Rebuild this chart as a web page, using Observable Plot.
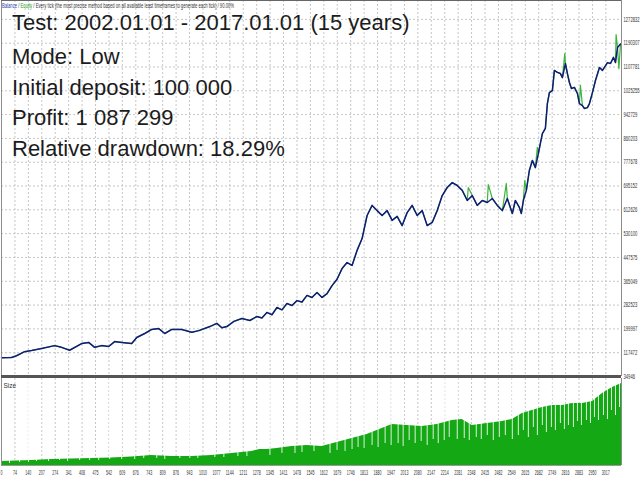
<!DOCTYPE html>
<html><head><meta charset="utf-8">
<script src="https://cdn.jsdelivr.net/npm/d3@7"></script>
<script src="https://cdn.jsdelivr.net/npm/@observablehq/plot@0.6"></script>
<style>
body{margin:0;background:#fff;}
#chart{position:relative;width:640px;height:480px;overflow:hidden;background:#fff;}
#chart svg{display:block;}
</style></head><body><div id="chart"></div>
<script>
// ---- data ----
const headerParts = ["Balance", " / ", "Equity", " / Every tick (the most precise method based on all available least timeframes to generate each tick) / 90.00%"];
const statLines = ["Test: 2002.01.01 - 2017.01.01 (15 years)", "Mode: Low", "Initial deposit: 100 000", "Profit: 1 087 299", "Relative drawdown: 18.29%"];
const yTickValues = [34946,117472,199997,282523,365049,447575,530100,612626,695152,777678,860203,942729,1025255,1107781,1190307,1272832];
const xTickLabels = ["0","74","140","207","274","341","408","475","542","609","676","743","809","876","943","1010","1077","1144","1211","1278","1345","1411","1478","1545","1612","1679","1746","1813","1880","1947","2013","2080","2147","2214","2281","2348","2415","2482","2549","2615","2682","2749","2816","2883","2950","3017"];
const balanceTrades = [0,50,75,115,150,200,265,300,340,400,435,465,500,535,565,600,650,675,715,750,785,815,850,900,950,985,1040,1075,1100,1125,1160,1200,1240,1275,1300,1325,1350,1375,1400,1425,1450,1475,1500,1525,1550,1575,1600,1625,1650,1675,1700,1725,1750,1775,1800,1825,1850,1875,1900,1925,1950,1975,2000,2025,2050,2075,2100,2125,2150,2175,2200,2225,2250,2275,2300,2325,2350,2375,2400,2425,2450,2475,2500,2525,2550,2565,2585,2595,2605,2620,2635,2650,2665,2680,2690,2700,2715,2725,2735,2750,2760,2775,2790,2800,2815,2825,2835,2845,2860,2875,2885,2900,2910,2925,2935,2950,2965,2985,3000,3025,3040,3055,3065,3075,3090];
const balanceValues = [100000,101000,107000,121000,125000,132000,142000,136000,126000,149000,153000,136000,142000,139000,156000,153000,149000,170000,184000,198000,201000,184000,198000,198000,188000,194000,208000,219000,204000,208000,226000,236000,229000,243000,238000,257000,249000,274000,266000,288000,281000,298000,293000,316000,309000,326000,309000,322000,350000,372000,409000,430000,420000,472000,513000,593000,628000,610000,593000,610000,576000,590000,558000,603000,628000,593000,610000,558000,569000,610000,662000,690000,707000,697000,680000,645000,662000,628000,645000,638000,652000,628000,610000,652000,600000,645000,621000,600000,645000,680000,749000,784000,759000,808000,843000,877000,895000,981000,1019000,1026000,1096000,1089000,1085000,1071000,1120000,1085000,1054000,1033000,1037000,1016000,981000,974000,964000,967000,981000,1019000,1061000,1106000,1096000,1123000,1120000,1141000,1123000,1175000,1187299];
const equitySpikeTrades = [2330,2430,2520,2612,2675,2812,2890,3068,3082];
const equitySpikeValues = [690000,700000,704000,714000,829000,1155000,1044000,1220000,1102000];
const sizeTrades = [0,75,150,250,350,450,550,650,750,850,950,1050,1150,1250,1290,1325,1375,1450,1525,1600,1675,1750,1825,1900,1950,2025,2100,2175,2250,2300,2350,2425,2500,2550,2600,2650,2700,2750,2800,2850,2900,2950,3000,3050,3095];
const sizeLots = [0.08,0.09,0.10,0.12,0.13,0.14,0.15,0.17,0.20,0.18,0.18,0.20,0.24,0.28,0.32,0.32,0.34,0.38,0.40,0.38,0.46,0.54,0.62,0.74,0.82,0.80,0.78,0.82,0.90,0.92,0.80,0.84,0.88,0.92,1.04,1.10,1.16,1.20,1.20,1.24,1.24,1.28,1.44,1.56,1.64];
const gapTrades = [40,90,135,175,235,290,330,390,440,485,540,600,665,710,775,815,890,940,980,1065,1110,1180,1225,1340,1400,1465,1500,1560,1640,1675,1715,1750,1780,1810,1850,1880,1915,1945,1980,2005,2035,2065,2095,2125,2155,2180,2210,2235,2275,2310,2335,2370,2395,2425,2455,2485,2515,2550,2580,2605,2630,2655,2675,2700,2720,2745,2765,2790,2810,2830,2855,2875,2895,2920,2940,2960,2980,3005,3025,3045,3065,3085];
const gapLots = [0.04,0.06,0.06,0.08,0.08,0.10,0.08,0.10,0.10,0.10,0.12,0.12,0.12,0.14,0.14,0.12,0.14,0.14,0.14,0.16,0.16,0.18,0.18,0.20,0.24,0.24,0.26,0.28,0.24,0.30,0.28,0.32,0.36,0.34,0.40,0.36,0.44,0.40,0.44,0.38,0.50,0.44,0.48,0.40,0.52,0.44,0.50,0.56,0.52,0.54,0.50,0.56,0.52,0.60,0.50,0.56,0.60,0.52,0.60,0.70,0.56,0.76,0.60,0.80,0.66,0.76,0.70,0.84,0.72,0.80,0.76,0.88,0.80,0.90,0.84,0.96,0.90,1.00,0.92,1.10,1.00,1.16];

// ---- layout ----
const font = "'Liberation Sans', Arial, sans-serif";
const xMax = 3095;
const yMin = 34946, yMax = 1338237;
const sizeMax = 1.74;
const xTickPos = xTickLabels.map((d, i) => i * 3017 / 45);
const grid = "#c6c6c6";

const balance = balanceTrades.map((t, i) => ({t, v: balanceValues[i]}));
const spikes = equitySpikeTrades.map((t, i) => ({t, v: equitySpikeValues[i]}));
const equity = balance.concat(spikes).sort((a, b) => a.t - b.t);
const sizeData = sizeTrades.map((t, i) => ({t, s: sizeLots[i]}));
const gaps = gapTrades.map((t, i) => ({t, s: gapLots[i]}));

const main = Plot.plot({
  width: 640, height: 377, marginLeft: 1, marginRight: 19, marginTop: 0, marginBottom: 1,
  x: {domain: [0, xMax], axis: null},
  y: {domain: [yMin, yMax], axis: null},
  style: {background: "#fff", fontFamily: font, overflow: "visible"},
  marks: [
    Plot.ruleY(yTickValues, {stroke: grid, strokeDasharray: "2,2"}),
    Plot.ruleX(xTickPos, {stroke: grid, strokeDasharray: "2,2"}),
    Plot.lineY(equity, {x: "t", y: "v", stroke: "#3cb43c", strokeWidth: 1.2}),
    Plot.lineY(balance, {x: "t", y: "v", stroke: "#101c78", strokeWidth: 1.5}),
    Plot.ruleX([0], {stroke: "#8c8c8c"}),
    Plot.ruleX([xMax], {stroke: "#8c8c8c"}),
    Plot.ruleY([yMax], {stroke: "#666"}),
    Plot.ruleY([yMin], {stroke: "#555", strokeWidth: 3}),
    Plot.text(yTickValues, {x: xMax, y: d => d, text: d => String(d), dx: 2, textAnchor: "start", fontSize: 7, fill: "#333"})
  ]
});

const sub = Plot.plot({
  width: 640, height: 103, marginLeft: 1, marginRight: 19, marginTop: 1, marginBottom: 15,
  x: {domain: [0, xMax], axis: null},
  y: {domain: [0, sizeMax], axis: null},
  style: {background: "#fff", fontFamily: font, overflow: "visible"},
  marks: [
    Plot.ruleX(xTickPos, {stroke: grid, strokeDasharray: "2,2"}),
    Plot.areaY(sizeData, {x: "t", y: "s", fill: "#14a814"}),
    Plot.ruleX(gaps, {x: "t", y1: "s", y2: sizeMax, stroke: "#fff", strokeOpacity: 0.85, strokeWidth: 1}),
    Plot.ruleX([0], {stroke: "#8c8c8c"}),
    Plot.ruleX([xMax], {stroke: "#8c8c8c"}),
    Plot.ruleY([0], {stroke: "#999"}),
    Plot.text(xTickLabels, {x: (d, i) => xTickPos[i], y: 0, dy: 7, text: d => d, fontSize: 6.5, fill: "#333"}),
    Plot.text(["Size"], {frameAnchor: "top-left", dx: 2, dy: 5, fontSize: 6.5, fill: "#333"})
  ]
});

const chart = document.getElementById("chart");
chart.appendChild(main);
chart.appendChild(sub);

// squeeze the tiny axis labels like the reference
const ySet = new Set(yTickValues.map(String));
d3.select(main).selectAll("text").each(function() {
  if (ySet.has(this.textContent)) {
    this.setAttribute("textLength", this.textContent.length * 2.3);
    this.setAttribute("lengthAdjust", "spacingAndGlyphs");
  }
});
const xSet = new Set(xTickLabels);
d3.select(sub).selectAll("text").each(function() {
  if (xSet.has(this.textContent)) {
    this.setAttribute("textLength", this.textContent.length * 2.0);
    this.setAttribute("lengthAdjust", "spacingAndGlyphs");
  }
});

// header line with coloured words
const svg = d3.select(main);
const header = svg.append("text").attr("x", 2).attr("y", 7.5)
  .attr("text-anchor", "start")
  .attr("font-size", 6.5).attr("font-family", font)
  .attr("textLength", 232).attr("lengthAdjust", "spacingAndGlyphs");
const headerColors = ["#1e3ca8", "#333", "#1a9a1a", "#333"];
headerParts.forEach((p, i) => header.append("tspan").attr("fill", headerColors[i]).style("white-space", "pre").text(p));

// large statistics text
const baselines = [30, 64, 95, 125, 156];
statLines.forEach((s, i) => {
  svg.append("text").attr("x", 12).attr("y", baselines[i])
    .attr("text-anchor", "start")
    .attr("font-size", 22).attr("font-family", font).attr("fill", "#1c1c1c").text(s);
});
</script></body></html>
